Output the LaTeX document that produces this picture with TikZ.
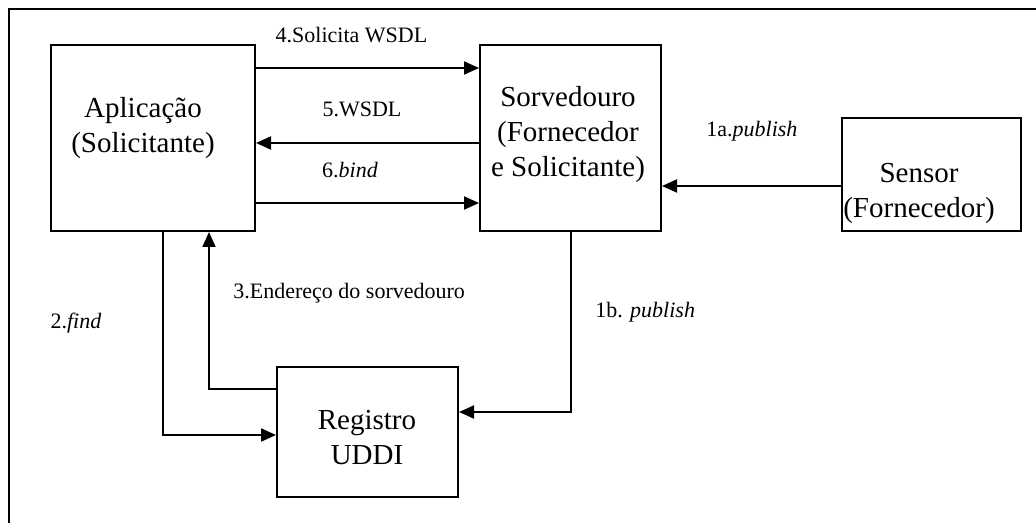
\documentclass[tikz,border=0pt]{standalone}
\usepackage{fontspec}
\setmainfont{Liberation Serif}
\usepackage{tikz}
\usetikzlibrary{arrows.meta}

\begin{document}
\begin{tikzpicture}[x=0.5pt,y=-0.5pt,
  box/.style={draw,line width=1pt,inner sep=0pt},
  boxtext/.style={align=center,inner sep=0pt,font=\fontsize{14.5}{17.5}\selectfont},
  msg/.style={inner sep=0pt,anchor=base,font=\fontsize{11}{13}\selectfont},
  flow/.style={line width=1pt,-{Triangle[length=7.5pt,width=6.5pt]}}]

\useasboundingbox (0,0) rectangle (1036,523);

\draw [line width=1pt] (1040,9) -- (9,9) -- (9,530);

\node [box,minimum width=102pt,minimum height=93pt] (apl) at (153,138) {};
\node [box,minimum width=90.5pt,minimum height=93pt] (sorv) at (570.5,138) {};
\node [box,minimum width=89.5pt,minimum height=56.5pt] (sens) at (931.5,174.5) {};
\node [box,minimum width=90.5pt,minimum height=65pt] (reg) at (367.5,432) {};

\node [boxtext] (apltxt) at (143,128) {Aplicação\\(Solicitante)};
\node [boxtext] (sorvtxt) at (568,135) {Sorvedouro\\(Fornecedor\\e Solicitante)};
\node [boxtext] (senstxt) at (919,193) {Sensor\\(Fornecedor)};
\node [boxtext] (regtxt) at (367,438) {Registro\\UDDI};

\draw [flow] (apl.east |- 0,68) -- (sorv.west |- 0,68);
\draw [flow] (sorv.west |- 0,143) -- (apl.east |- 0,143);
\draw [flow] (apl.east |- 0,203) -- (sorv.west |- 0,203);
\draw [flow] (sens.west |- 0,186) -- (sorv.east |- 0,186);
\draw [flow] (sorv.south) |- (reg.east |- 0,412);
\draw [flow] (reg.west |- 0,389) -| (apl.south -| 209,0);
\draw [flow] (apl.south -| 163,0) |- (reg.west |- 0,435);

\node [msg] (m4) at (351.5,43) {4.Solicita WSDL};
\node [msg] (m5) at (362,117) {5.WSDL};
\node [msg] (m6) at (350,178) {6.\textit{bind}};
\node [msg,anchor=base west] (m3) at (233,299) {3.Endereço do sorvedouro};
\node [msg] (m2) at (76,328) {2.\textit{find}};
\node [msg,anchor=base west] (m1b) at (595,317) {1b. \textit{publish}};
\node [msg,anchor=base west] (m1a) at (706,137) {1a.\textit{publish}};

\end{tikzpicture}
\end{document}
